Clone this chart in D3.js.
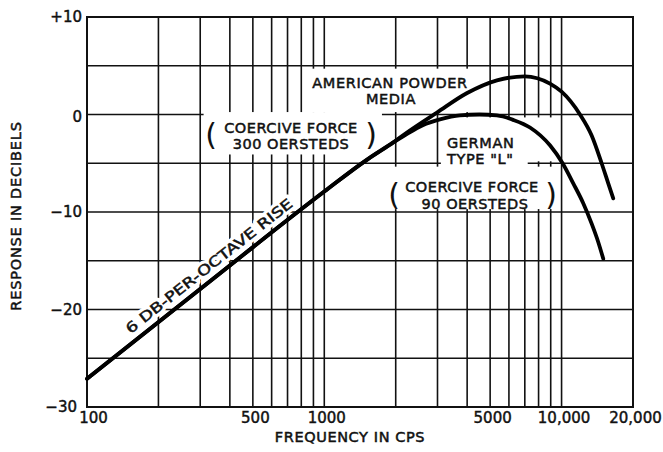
<!DOCTYPE html>
<html>
<head>
<meta charset="utf-8">
<script src="https://cdn.jsdelivr.net/npm/d3@7"></script>
<style>
  html, body { margin: 0; padding: 0; background: #fff; }
  svg { display: block; }
  text { font-family: "DejaVu Sans", "Liberation Sans", sans-serif; fill: #111; }
</style>
</head>
<body>
<script>
// ---------------- data ----------------
const americanFreq = [100, 300, 1000, 1500, 1890, 2200, 2985, 4000, 5340, 7000, 8935, 10000, 11955, 13390, 14750, 15730, 16510];
const americanDb   = [-27.1, -17.9, -7.9, -4.7, -3.1, -1.95, 0.2, 2.2, 3.5, 3.92, 3.17, 2.34, 0.0, -2.16, -5.0, -7.06, -8.6];

const germanFreq = [100, 300, 1000, 1500, 1890, 2200, 2600, 3070, 3730, 4500, 5340, 6250, 7360, 8935, 10100, 11200, 12340, 13390, 14280, 14990];
const germanDb   = [-27.1, -17.9, -7.9, -4.7, -3.1, -2.1, -1.1, -0.5, -0.08, 0.0, -0.1, -0.55, -1.33, -3.16, -5.0, -7.06, -9.1, -11.2, -13.1, -14.8];

const xTickValues = [100, 500, 1000, 5000, 10000, 20000];
const xTickLabels = ["100", "500", "1000", "5000", "10,000", "20,000"];
const yTickValues = [10, 0, -10, -20, -30];
const yTickLabels = ["+10", "0", "\u221210", "\u221220", "\u221230"];
const xGridValues = [200, 300, 400, 500, 600, 700, 800, 900, 1000,
                     2000, 3000, 4000, 5000, 6000, 7000, 8000, 9000, 10000];
const yGridValues = [5, 0, -5, -10, -15, -20, -25];

// ---------------- layout ----------------
const W = 663, H = 452;
const plot = { left: 87, right: 633, top: 17, bottom: 407 };

const x = d3.scaleLog().domain([100, 20000]).range([plot.left, plot.right]);
const y = d3.scaleLinear().domain([-30, 10]).range([plot.bottom, plot.top]);

const svg = d3.select("body").append("svg").attr("width", W).attr("height", H);
svg.append("rect").attr("width", W).attr("height", H).attr("fill", "#fff");

// grid
const grid = svg.append("g").attr("stroke", "#111").attr("stroke-width", 1.6);
grid.selectAll("line.v").data(xGridValues).join("line")
  .attr("x1", d => x(d)).attr("x2", d => x(d))
  .attr("y1", plot.top).attr("y2", plot.bottom);
grid.selectAll("line.h").data(yGridValues).join("line")
  .attr("x1", plot.left).attr("x2", plot.right)
  .attr("y1", d => y(d)).attr("y2", d => y(d));

// erased grid regions behind labels (in data units: [f0, f1, dbTop, dbBottom])
const masks = [
  [850, 4450, 4.7, 0.25],
  [310, 1750, 0.25, -4.1],
  [3100, 7200, -0.3, -5.5],
  [7200, 9500, -0.3, -4.8],
  [1860, 9500, -5.35, -9.7]
];
svg.append("g").selectAll("rect").data(masks).join("rect")
  .attr("x", d => x(d[0])).attr("width", d => x(d[1]) - x(d[0]))
  .attr("y", d => y(d[2])).attr("height", d => y(d[3]) - y(d[2]))
  .attr("fill", "#fff");

// border
svg.append("rect")
  .attr("x", plot.left).attr("y", plot.top)
  .attr("width", plot.right - plot.left).attr("height", plot.bottom - plot.top)
  .attr("fill", "none").attr("stroke", "#111").attr("stroke-width", 2);

// axes (labels only)
const xAxis = d3.axisBottom(x).tickValues(xTickValues)
  .tickFormat((d, i) => xTickLabels[i]).tickSize(0).tickPadding(5);
const gx = svg.append("g").attr("transform", `translate(0,${plot.bottom})`).call(xAxis);
gx.select(".domain").remove();
gx.selectAll("text").attr("font-size", 15).attr("font-family", "DejaVu Sans").attr("fill", "#111")
  .attr("stroke", "#111").attr("stroke-width", 0.45)
  .attr("dx", (d, i) => i === 0 ? 6 : 2);

const yAxis = d3.axisLeft(y).tickValues(yTickValues)
  .tickFormat((d, i) => yTickLabels[i]).tickSize(0).tickPadding(5);
const gy = svg.append("g").attr("transform", `translate(${plot.left},0)`).call(yAxis);
gy.select(".domain").remove();
gy.selectAll("text").attr("font-size", 15).attr("font-family", "DejaVu Sans").attr("fill", "#111")
  .attr("stroke", "#111").attr("stroke-width", 0.45)
  .attr("dx", d => d === -30 ? -5 : 0)
  .attr("dy", d => d === 0 ? "0.45em" : "0.32em");

// axis titles
svg.append("text").attr("x", 350).attr("y", 442).attr("text-anchor", "middle")
  .attr("font-size", 14.5).attr("letter-spacing", 0.6)
  .attr("stroke", "#111").attr("stroke-width", 0.5).text("FREQUENCY IN CPS");
svg.append("text").attr("transform", "translate(21,216) rotate(-90)")
  .attr("text-anchor", "middle").attr("font-size", 14.5).attr("letter-spacing", 0.8)
  .attr("stroke", "#111").attr("stroke-width", 0.5)
  .text("RESPONSE IN DECIBELS");

// curves
const line = d3.line().x(d => x(d[0])).y(d => y(d[1])).curve(d3.curveMonotoneX);
const american = americanFreq.map((f, i) => [f, americanDb[i]]);
const german = germanFreq.map((f, i) => [f, germanDb[i]]);
svg.append("path").datum(german).attr("d", line)
  .attr("fill", "none").attr("stroke", "#000").attr("stroke-width", 3.8).attr("stroke-linecap", "round");
svg.append("path").datum(american).attr("d", line)
  .attr("fill", "none").attr("stroke", "#000").attr("stroke-width", 3.8).attr("stroke-linecap", "round");

// rotated 6 dB/octave label along the straight part
const p0 = [x(160), y(-27.1 + 19.2 * Math.log10(1.6))];
const p1 = [x(1000), y(-7.9)];
const ang = Math.atan2(p1[1] - p0[1], p1[0] - p0[0]);
const nx = Math.sin(ang) * 8, ny = -Math.cos(ang) * 8;
const rotT = `translate(${p0[0] + nx},${p0[1] + ny}) rotate(${ang * 180 / Math.PI})`;
svg.append("text").attr("transform", rotT)
  .attr("font-size", 14).attr("textLength", 208).attr("lengthAdjust", "spacingAndGlyphs")
  .attr("fill", "#fff").attr("stroke", "#fff").attr("stroke-width", 7).attr("stroke-linejoin", "round")
  .text("6 DB-PER-OCTAVE RISE");
svg.append("text").attr("transform", rotT)
  .attr("font-size", 14).attr("textLength", 208).attr("lengthAdjust", "spacingAndGlyphs")
  .attr("stroke", "#111").attr("stroke-width", 0.5)
  .text("6 DB-PER-OCTAVE RISE");

// annotations
function label(txt, cx, cy, size, anchor, ls, sw) {
  return svg.append("text").attr("x", cx).attr("y", cy)
    .attr("text-anchor", anchor || "middle").attr("dominant-baseline", "central")
    .attr("font-size", size).attr("letter-spacing", ls || 0)
    .attr("stroke", "#111").attr("stroke-width", sw === undefined ? 0.5 : sw)
    .text(txt);
}
label("AMERICAN POWDER", 390, 83, 14.5, "middle", 0.6);
label("MEDIA", 391, 99, 14.5, "middle", 0.6);

label("COERCIVE FORCE", 291, 128, 14.5, "middle", 0.5);
label("300 OERSTEDS", 291, 144, 14.5, "middle", 0.5);
label("(", 211, 134, 30, "middle", 0, 0);
label(")", 371, 134, 30, "middle", 0, 0);

label("GERMAN", 447, 143, 14.5, "start", 0.6);
label("TYPE \"L\"", 447, 159, 14.5, "start", 0.6);

label("COERCIVE FORCE", 472, 187, 14.5, "middle", 0.5);
label("90 OERSTEDS", 475, 204, 14.5, "middle", 0.5);
label("(", 394, 194, 30, "middle", 0, 0);
label(")", 551, 194, 30, "middle", 0, 0);
</script>
</body>
</html>
